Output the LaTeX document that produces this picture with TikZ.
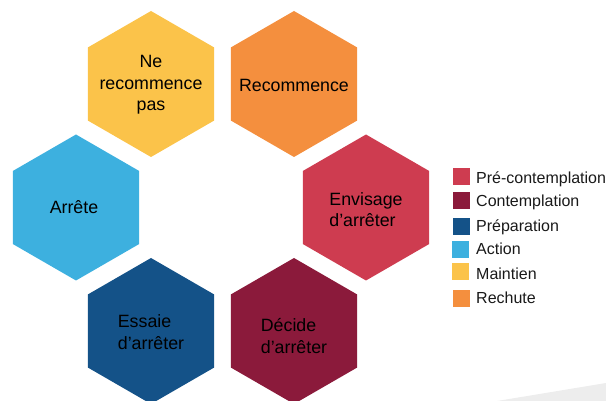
\documentclass[tikz,border=0pt]{standalone}
\usepackage{fontspec}
\setmainfont{Liberation Sans}
\usetikzlibrary{shapes.geometric}
\definecolor{cPre}{RGB}{206,60,80}
\definecolor{cCon}{RGB}{139,26,59}
\definecolor{cPrep}{RGB}{20,82,136}
\definecolor{cAct}{RGB}{61,176,223}
\definecolor{cMai}{RGB}{251,195,74}
\definecolor{cRec}{RGB}{244,143,62}
\definecolor{cShade}{RGB}{237,237,237}
\tikzset{
  hexa/.style={regular polygon, regular polygon sides=6, shape border rotate=30,
    minimum size=146pt, inner sep=0pt, draw=none},
  hextxt/.style={inner sep=0pt, text=black, font=\fontsize{17.8}{21.5}\selectfont},
  legsq/.style={minimum size=17pt, inner sep=0pt, draw=none},
  legtxt/.style={anchor=base west, inner sep=0pt, text=black!90,
    font=\fontsize{16}{19}\selectfont},
}
\begin{document}
\begin{tikzpicture}[x=1pt,y=-1pt]
\useasboundingbox (0,0) rectangle (606,401);
\fill[cShade] (497,401) -- (606,383) -- (606,401) -- cycle;
% hexagons
\node[hexa, fill=cMai]  (nrp) at (151,84) {};
\node[hexa, fill=cRec]  (rec) at (294,84) {};
\node[hexa, fill=cAct]  (arr) at (76,207.5) {};
\node[hexa, fill=cPre]  (env) at (366,207.5) {};
\node[hexa, fill=cPrep] (ess) at (151,331) {};
\node[hexa, fill=cCon]  (dec) at (294,331) {};
% hexagon texts
\node[hextxt, align=center] (nrpt) at ([yshift=-1pt]nrp.center) {Ne\\recommence\\pas};
\node[hextxt] (rect) at ([yshift=-1pt]rec.center) {Recommence};
\node[hextxt] (arrt) at ([xshift=-2pt]arr.center) {Arrête};
\node[hextxt, align=left] (envt) at ([yshift=-2pt]env.center) {Envisage\\d’arrêter};
\node[hextxt, align=left] (esst) at ([yshift=-1pt]ess.center) {Essaie\\d’arrêter};
\node[hextxt, align=left] (dect) at ([yshift=-5pt]dec.center) {Décide\\d’arrêter};
% legend
\node[legsq, fill=cPre]  (s1) at (461,176.7) {};
\node[legsq, fill=cCon]  (s2) at (461,200.7) {};
\node[legsq, fill=cPrep] (s3) at (461,226.7) {};
\node[legsq, fill=cAct]  (s4) at (460,249.3) {};
\node[legsq, fill=cMai]  (s5) at (460,271.7) {};
\node[legsq, fill=cRec]  (s6) at (461,298.3) {};
\node[legtxt] (t1) at (476,183.3) {Pré-contemplation};
\node[legtxt] (t2) at (476,206.7) {Contemplation};
\node[legtxt] (t3) at (476,231.5) {Préparation};
\node[legtxt] (t4) at (476,255) {Action};
\node[legtxt] (t5) at (476,279.3) {Maintien};
\node[legtxt] (t6) at (476,304) {Rechute};
\end{tikzpicture}
\end{document}
